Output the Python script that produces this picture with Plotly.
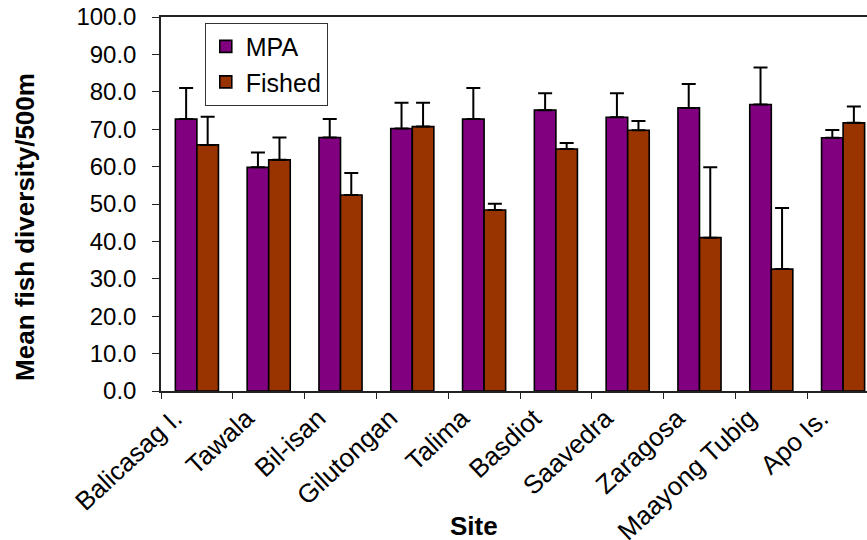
import plotly.graph_objects as go

# Mean fish diversity per 500 m2 at each site, marine protected area vs fished reef
sites = ["Balicasag I.", "Tawala", "Bil-isan", "Gilutongan", "Talima",
         "Basdiot", "Saavedra", "Zaragosa", "Maayong Tubig", "Apo Is."]
mpa_mean = [72.7, 59.8, 67.8, 70.2, 72.7, 75.1, 73.2, 75.7, 76.6, 67.7]
mpa_se = [8.3, 4.0, 4.9, 6.9, 8.3, 4.5, 6.4, 6.4, 9.9, 2.1]
fished_mean = [65.8, 61.8, 52.4, 70.7, 48.4, 64.7, 69.7, 41.0, 32.6, 71.7]
fished_se = [7.5, 6.0, 5.9, 6.4, 1.7, 1.6, 2.5, 18.8, 16.3, 4.4]
y_ticks = [0, 10, 20, 30, 40, 50, 60, 70, 80, 90, 100]

MPA_COLOR = "#800080"
FISHED_COLOR = "#993300"
FONT = "Liberation Sans, Arial, sans-serif"

fig = go.Figure()
for name, vals, errs, col, grp in [
    ("MPA", mpa_mean, mpa_se, MPA_COLOR, "g1"),
    ("Fished", fished_mean, fished_se, FISHED_COLOR, "g2"),
]:
    fig.add_trace(go.Bar(
        name=name, x=sites, y=vals, legendgroup=grp,
        marker=dict(color=col, line=dict(color="black", width=1.6)),
        error_y=dict(type="data", array=errs, arrayminus=[0] * len(errs),
                     symmetric=False, color="black", thickness=2, width=7),
    ))

fig.update_layout(
    width=867, height=540,
    margin=dict(l=161, r=0, t=17, b=149),
    paper_bgcolor="white", plot_bgcolor="white",
    barmode="group", bargap=0.4, bargroupgap=0,
    font=dict(family=FONT, color="black"),
    showlegend=True,
    legend=dict(
        x=0.062, y=0.985, xanchor="left", yanchor="top",
        bgcolor="white", bordercolor="#333333", borderwidth=1,
        font=dict(size=25, family=FONT, color="black"),
        traceorder="grouped", tracegroupgap=0,
    ),
    xaxis=dict(
        type="category", range=[-0.5, 9.333],
        showline=True, linecolor="#222222", linewidth=1.5, mirror=True,
        ticks="outside", ticklen=6, tickcolor="#222222", tickwidth=1.2,
        tickson="boundaries", tickangle=-43,
        tickfont=dict(size=26, family=FONT, color="black"),
        showgrid=False, zeroline=False, automargin=False,
        ticklabelshift=-22, ticklabelstandoff=0,
    ),
    yaxis=dict(
        range=[0, 100], tickvals=y_ticks, tickformat=".1f",
        showline=True, linecolor="#222222", linewidth=1.5,
        ticks="outside", ticklen=7, tickcolor="#222222", tickwidth=1.2,
        tickfont=dict(size=24, family=FONT, color="black"),
        ticklabelstandoff=11,
        showgrid=False, zeroline=False, automargin=False,
    ),
    annotations=[
        dict(text="<b>Mean fish diversity/500m</b>", textangle=-90,
             xref="paper", yref="paper", x=-0.192, y=0.44,
             xanchor="center", yanchor="middle", showarrow=False,
             font=dict(size=26, family=FONT, color="black")),
        dict(text="<b>Site</b>", xref="paper", yref="paper",
             x=0.444, y=-0.36, xanchor="center", yanchor="middle",
             showarrow=False, font=dict(size=26, family=FONT, color="black")),
    ],
)

fig.write_html("out.html")
